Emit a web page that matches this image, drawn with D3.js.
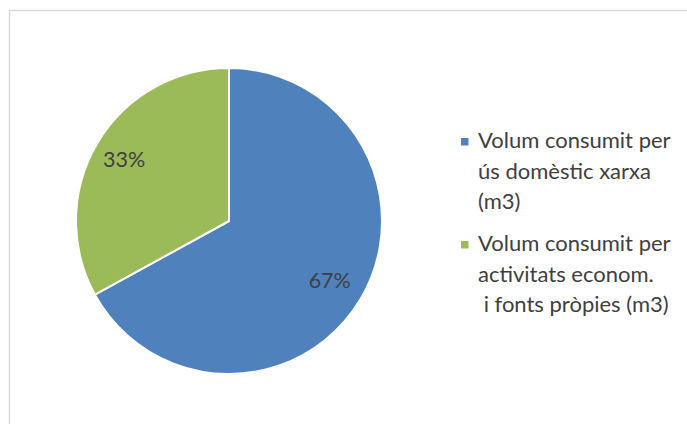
<!DOCTYPE html>
<html><head><meta charset="utf-8">
<script src="https://cdn.jsdelivr.net/npm/d3@7"></script>
<style>html,body{margin:0;padding:0;background:#fff;}svg{display:block;}</style>
</head><body>
<svg id="c" width="687" height="424"></svg>
<script>
const categories = ["Volum consumit per ús domèstic xarxa (m3)", "Volum consumit per activitats econom. i fonts pròpies (m3)"];
const values = [67, 33];
const legendLines = [["Volum consumit per", "ús domèstic xarxa", "(m3)"], ["Volum consumit per", "activitats econom.", " i fonts pròpies (m3)"]];
const colors = ["#4f81bd", "#9bbb59"];

const svg = d3.select("#c");
svg.append("rect").attr("x", 9.5).attr("y", 10.5).attr("width", 700).attr("height", 450)
  .attr("fill", "#fff").attr("stroke", "#d9d9d9").attr("stroke-width", 1.5);

const cx = 229, cy = 221, R = 153;
const labelFrac = [0.765, 0.797];
const pie = d3.pie().sort(null).value(d => d);
const arcs = pie(values);
const arc = d3.arc().innerRadius(0).outerRadius(R);
const total = d3.sum(values);
const g = svg.append("g").attr("transform", `translate(${cx},${cy})`);
g.selectAll("path").data(arcs).join("path")
  .attr("d", arc).attr("fill", (d, i) => colors[i])
  .attr("stroke", "#fff").attr("stroke-width", 2).attr("stroke-linejoin", "round");
g.selectAll("text").data(arcs).join("text")
  .attr("transform", (d, i) => {
    const la = d3.arc().innerRadius(R * labelFrac[i]).outerRadius(R * labelFrac[i]);
    return `translate(${la.centroid(d)})`;
  })
  .attr("text-anchor", "middle").attr("dy", "0.36em")
  .attr("font-family", "Lato, 'Open Sans', sans-serif").attr("font-size", 21.5)
  .attr("fill", "#404040")
  .text(d => Math.round(d.data / total * 100) + "%");

const lg = svg.append("g");
const groupY = [148, 251];
legendLines.forEach((lines, i) => {
  lg.append("rect").attr("x", 461).attr("y", groupY[i] - 10).attr("width", 7.5).attr("height", 7.5).attr("fill", colors[i]);
  lines.forEach((t, j) => {
    lg.append("text").attr("x", 478).attr("y", groupY[i] + j * 30.5)
      .attr("font-family", "Lato, 'Open Sans', sans-serif").attr("font-size", 22)
      .attr("fill", "#404040").attr("xml:space", "preserve").style("white-space", "pre")
      .text(t);
  });
});
</script>
</body></html>
